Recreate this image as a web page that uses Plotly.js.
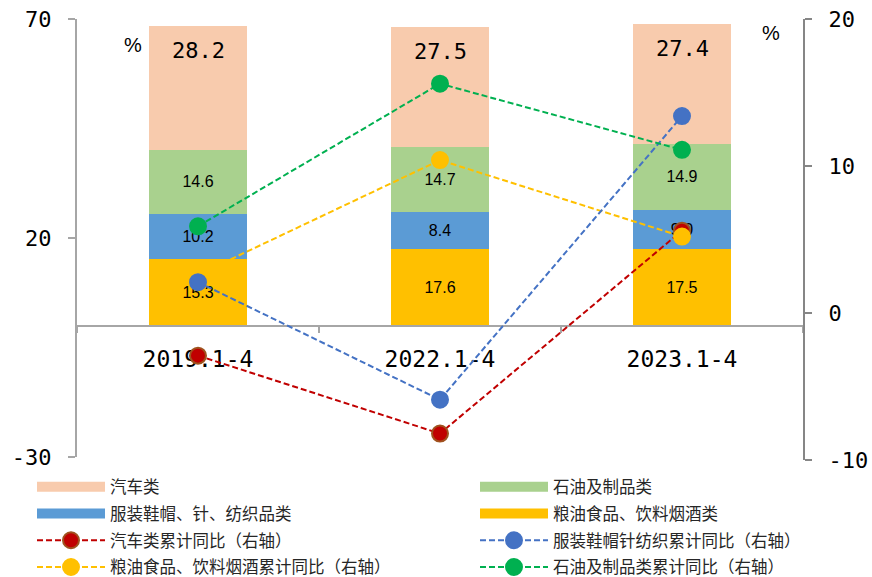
<!DOCTYPE html>
<html>
<head>
<meta charset="utf-8">
<script src="https://cdn.plot.ly/plotly-3.0.1.min.js"></script>
<style>html,body{margin:0;padding:0;background:#fff}#chart{width:872px;height:577px}</style>
</head>
<body>
<div id="chart"></div>
<script>
const categories = ['2019.1-4', '2022.1-4', '2023.1-4'];
const grainShare = [15.3, 17.6, 17.5];
const clothShare = [10.2, 8.4, 9.0];
const oilShare = [14.6, 14.7, 14.9];
const autoShare = [28.2, 27.5, 27.4];
const autoYoY = [-2.9, -8.2, 5.6];
const clothYoY = [2.1, -5.9, 13.4];
const grainYoY = [2.6, 10.4, 5.2];
const oilYoY = [5.9, 15.6, 11.1];

const names = {
  auto: '汽车类',
  oil: '石油及制品类',
  cloth: '服装鞋帽、针、纺织品类',
  grain: '粮油食品、饮料烟酒类',
  autoL: '汽车类累计同比（右轴）',
  clothL: '服装鞋帽针纺织累计同比（右轴）',
  grainL: '粮油食品、饮料烟酒累计同比（右轴）',
  oilL: '石油及制品类累计同比（右轴）'
};
const colors = {auto: '#f8cbad', oil: '#a9d18e', cloth: '#5b9bd5', grain: '#ffc000',
  autoL: '#c00000', clothL: '#4472c4', grainL: '#ffc000', oilL: '#00b050'};

const sans = 'Liberation Sans, Arial, sans-serif';
const mono = 'DejaVu Sans Mono, monospace';
const cjk = 'Noto Sans CJK SC, sans-serif';

function bar(y, key, withText) {
  return {
    type: 'bar', x: categories, y: y, name: names[key], showlegend: false,
    marker: {color: colors[key], line: {width: 0}},
    text: withText ? y.map(v => v.toFixed(1)) : undefined,
    textposition: withText ? 'inside' : 'none', insidetextanchor: 'middle',
    textfont: {family: sans, size: 16, color: '#000'}, hoverinfo: 'skip', xaxis: 'x', yaxis: 'y'
  };
}
// legend-only swatch for the bar series (wide flat swatch like the original)
function barKey(key, legend) {
  return {
    type: 'scatter', mode: 'lines', x: [null], y: [null], name: names[key],
    line: {color: colors[key], width: 10}, legend: legend, legendgroup: key,
    hoverinfo: 'skip', xaxis: 'x', yaxis: 'y'
  };
}
function line(y, key, legend, border) {
  return {
    type: 'scatter', mode: 'lines+markers', x: categories, y: y, name: names[key],
    legend: legend, legendgroup: key,
    line: {color: colors[key], width: 2, dash: '6px,3px'},
    marker: {color: colors[key], size: 16, line: {color: border || colors[key], width: 2}},
    xaxis: 'x', yaxis: 'y2', cliponaxis: false
  };
}

const totals = categories.map((c, i) => grainShare[i] + clothShare[i] + oilShare[i] + autoShare[i]);

const traces = [
  bar(grainShare, 'grain', true),
  bar(clothShare, 'cloth', true),
  bar(oilShare, 'oil', true),
  bar(autoShare, 'auto', false),
  barKey('auto', 'legend'),
  barKey('cloth', 'legend'),
  line(autoYoY, 'autoL', 'legend', '#a0521e'),
  line(grainYoY, 'grainL', 'legend'),
  barKey('oil', 'legend2'),
  barKey('grain', 'legend2'),
  line(clothYoY, 'clothL', 'legend2'),
  line(oilYoY, 'oilL', 'legend2')
];

const legendBase = {
  orientation: 'v', xanchor: 'left', y: -0.0216, yanchor: 'top',
  itemwidth: 68, tracegroupgap: 2.3, traceorder: 'grouped',
  font: {family: cjk, size: 16.5, color: '#262626'}, bgcolor: 'rgba(0,0,0,0)'
};

const annotations = categories.map((c, i) => ({
  x: c, y: totals[i], xref: 'x', yref: 'y', yanchor: 'top', yshift: -10,
  text: autoShare[i].toFixed(1), showarrow: false,
  font: {family: mono, size: 22, color: '#000'}
}));
annotations.push(
  {xref: 'paper', yref: 'paper', x: (133 - 77) / 726, y: (460 - 45) / 441, xanchor: 'center', yanchor: 'middle', text: '%', showarrow: false, font: {family: sans, size: 20, color: '#000'}},
  {xref: 'paper', yref: 'paper', x: (771 - 77) / 726, y: (460 - 33) / 441, xanchor: 'center', yanchor: 'middle', text: '%', showarrow: false, font: {family: sans, size: 20, color: '#000'}}
);

const layout = {
  width: 872, height: 577,
  margin: {l: 77, r: 69, t: 19, b: 117, autoexpand: false},
  paper_bgcolor: '#fff', plot_bgcolor: 'rgba(0,0,0,0)',
  barmode: 'stack', bargap: 0.595,
  showlegend: true,
  xaxis: {
    type: 'category', anchor: 'free', position: 0.3039,
    showline: true, linecolor: '#a6a6a6', linewidth: 2,
    ticks: 'outside', tickson: 'boundaries', ticklen: 6, tickcolor: '#a6a6a6', tickwidth: 2,
    tickfont: {family: mono, size: 23, color: '#000'}, ticklabelstandoff: 12,
    showgrid: false, zeroline: false, fixedrange: true
  },
  yaxis: {
    domain: [0.0068, 1], range: [-30, 70], tickvals: [-30, 20, 70], ticktext: ['-30', '20', '70'],
    showline: true, linecolor: '#a6a6a6', linewidth: 2,
    ticks: 'outside', ticklen: 7, tickcolor: '#a6a6a6', tickwidth: 2,
    tickfont: {family: mono, size: 22, color: '#000'}, ticklabelstandoff: 12,
    showgrid: false, zeroline: false
  },
  yaxis2: {
    domain: [0, 1], anchor: 'x', side: 'right', range: [-10, 20], tickvals: [-10, 0, 10, 20], ticktext: ['-10', '0', '10', '20'],
    showline: true, linecolor: '#868686', linewidth: 2,
    ticks: 'outside', ticklen: 7, tickcolor: '#868686', tickwidth: 2,
    tickfont: {family: mono, size: 22, color: '#000'}, ticklabelstandoff: 12,
    showgrid: false, zeroline: false
  },
  legend: Object.assign({}, legendBase, {x: (32 - 77) / 726}),
  legend2: Object.assign({}, legendBase, {x: (475 - 77) / 726}),
  annotations: annotations
};

Plotly.newPlot('chart', traces, layout, {displayModeBar: false, staticPlot: true});
</script>
</body>
</html>
